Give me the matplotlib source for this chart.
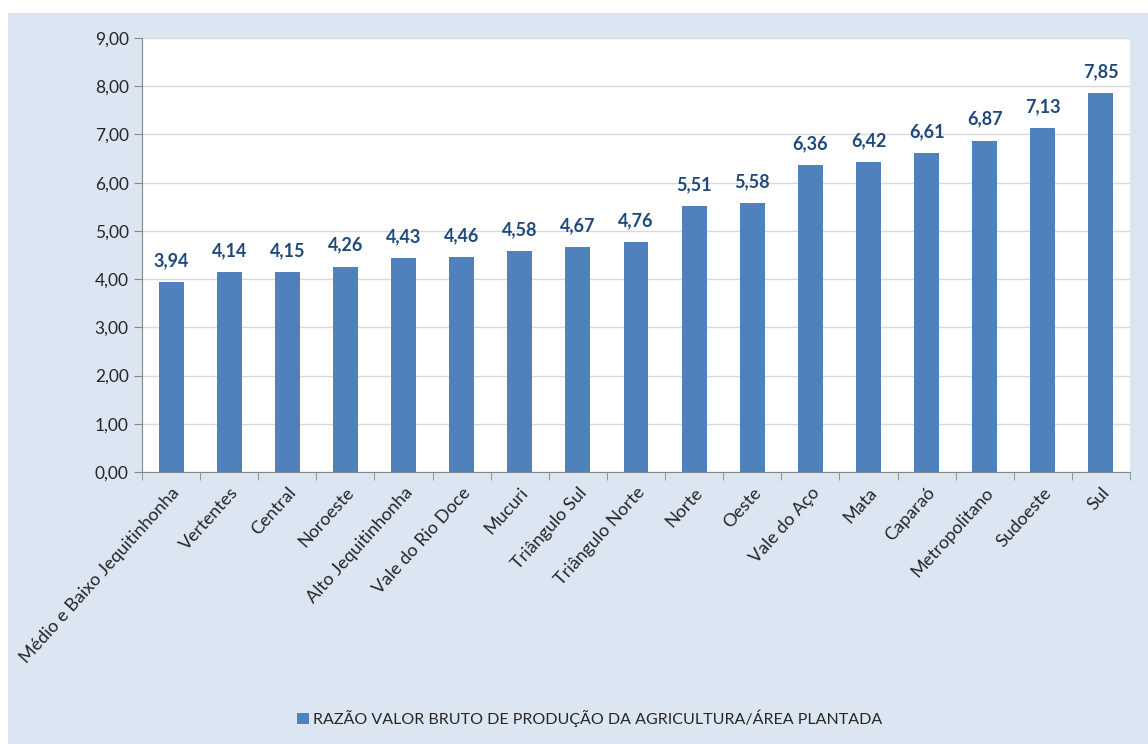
import numpy as np
import matplotlib.pyplot as plt
from matplotlib.patches import Rectangle

plt.rcParams['font.family'] = ['Lato', 'DejaVu Sans']

regioes = ['Médio e Baixo Jequitinhonha', 'Vertentes', 'Central', 'Noroeste',
           'Alto Jequitinhonha', 'Vale do Rio Doce', 'Mucuri', 'Triângulo Sul',
           'Triângulo Norte', 'Norte', 'Oeste', 'Vale do Aço', 'Mata', 'Caparaó',
           'Metropolitano', 'Sudoeste', 'Sul']
razao = [3.94, 4.14, 4.15, 4.26, 4.43, 4.46, 4.58, 4.67, 4.76, 5.51, 5.58,
         6.36, 6.42, 6.61, 6.87, 7.13, 7.85]
legenda = 'RAZÃO VALOR BRUTO DE PRODUÇÃO DA AGRICULTURA/ÁREA PLANTADA'

fundo = '#dce6f2'
cor_barra = '#4f81bd'

fig = plt.figure(figsize=(11.48, 7.44), dpi=100)
fig.patch.set_facecolor('white')
# area azul clara do grafico
fig.patches.append(Rectangle((8 / 1148, 0), 1140 / 1148, 731 / 744,
                             transform=fig.transFigure, facecolor=fundo,
                             edgecolor='none', zorder=-10))

ax = fig.add_axes([142 / 1148, 1 - 472 / 744, 988 / 1148, 434 / 744])
ax.set_facecolor('white')

x = np.arange(len(regioes))
barras = ax.bar(x, razao, width=0.43, color=cor_barra, zorder=3,
                label=legenda)

for xi, v in zip(x, razao):
    ax.text(xi, v + 0.27, f'{v:.2f}'.replace('.', ','), ha='center',
            va='bottom', fontsize=13, fontweight='bold', color='#1f497d')

ax.set_xlim(-0.5, len(regioes) - 0.5)
ax.set_ylim(0, 9)
ax.set_yticks(np.arange(0, 10, 1))
ax.set_yticklabels([f'{v:.2f}'.replace('.', ',') for v in np.arange(0, 10, 1)],
                   fontsize=12.5, color='#262626')
ax.yaxis.grid(True, color='#d9d9d9', linewidth=1, zorder=0)

ax.set_xticks(x)
ax.set_xticklabels(regioes, rotation=48, ha='right', rotation_mode='anchor',
                   fontsize=13, color='#262626')
ax.tick_params(axis='x', length=0, pad=9)
ax.set_xticks(np.arange(-0.5, len(regioes)), minor=True)
ax.tick_params(axis='x', which='minor', length=6, color='#868686', direction='out')
ax.tick_params(axis='y', length=6, color='#868686', direction='out')

for lado in ['top', 'right']:
    ax.spines[lado].set_visible(False)
for lado in ['left', 'bottom']:
    ax.spines[lado].set_color('#868686')

fig.legend(handles=[barras], labels=[legenda], loc='center',
           bbox_to_anchor=(590 / 1148, 1 - 718 / 744), frameon=False,
           fontsize=11.5, handlelength=0.7, handleheight=0.7, handletextpad=0.3,
           labelcolor='#262626')

fig.savefig('out.png', dpi=100, facecolor=fig.get_facecolor())
